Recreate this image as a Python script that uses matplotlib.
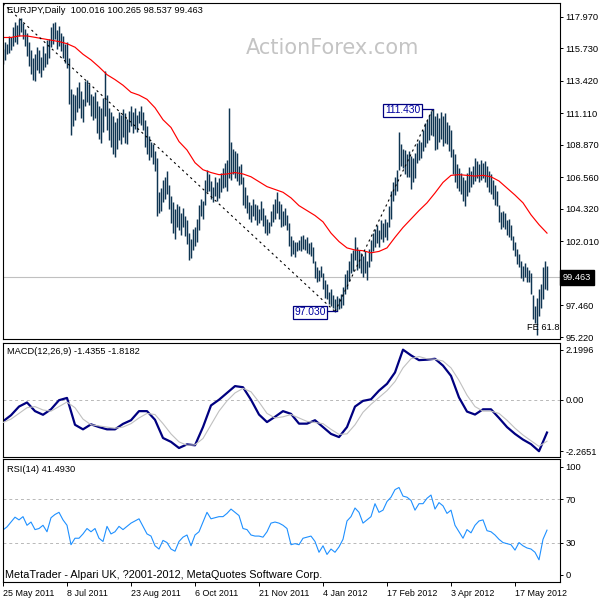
import numpy as np
import matplotlib
matplotlib.use("Agg")
import matplotlib.pyplot as plt
from matplotlib.transforms import blended_transform_factory

plt.rcParams['font.family'] = ['Liberation Sans', 'DejaVu Sans']

# ---- values (one bar per trading day, 25 May 2011 -> 8 Jun 2012) ----
chart_title = "EURJPY,Daily  100.016 100.265 98.537 99.463"
macd_title = "MACD(12,26,9) -1.4355 -1.8182"
rsi_title = "RSI(14) 41.4930"
footer = "MetaTrader - Alpari UK, ?2001-2012, MetaQuotes Software Corp."
watermark = "ActionForex.com"
last_close = 99.463
swing_low = 97.030
swing_high = 111.430
trend_start = 118.9  # price where the first dashed line enters the chart

high = [115.7, 116.2, 116.0, 116.6, 116.5, 117.2, 117.6, 117.4, 117.8, 117.9,
        117.5, 117.1, 116.8, 116.2, 115.6, 115.0, 115.3, 115.8, 115.6, 115.1,
        115.9, 115.4, 116.3, 116.4, 117.2, 117.5, 117.6, 117.0, 117.3, 116.8,
        116.6, 116.0, 116.2, 115.0, 112.8, 112.5, 112.4, 113.0, 113.3, 112.7,
        112.1, 113.4, 113.5, 113.2, 112.5, 112.3, 112.6, 112.0, 111.6, 111.5,
        112.2, 114.1, 112.4, 111.5, 111.2, 110.9, 110.5, 110.8, 111.2, 111.0,
        111.4, 111.1, 110.7, 111.3, 111.6, 111.2, 111.5, 111.0, 111.3, 111.6,
        111.2, 110.6, 110.2, 109.5, 109.1, 108.9, 108.4, 107.9, 105.5, 105.8,
        106.4, 106.6, 107.0, 106.0, 105.2, 104.8, 104.3, 104.7, 104.5, 104.0,
        104.4, 103.8, 103.5, 102.6, 102.2, 102.9, 103.0, 103.6, 104.6, 105.0,
        104.9, 106.4, 107.1, 106.8, 106.3, 105.9, 106.6, 106.2, 106.5, 106.9,
        107.2, 107.6, 107.8, 111.5, 109.1, 108.6, 108.4, 108.3, 107.4, 107.5,
        106.6, 105.9, 105.3, 104.8, 104.6, 105.0, 104.7, 104.6, 104.3, 104.9,
        104.4, 103.9, 103.6, 103.4, 104.2, 104.7, 105.0, 105.5, 104.9, 104.7,
        104.2, 104.4, 103.9, 103.3, 102.4, 102.1, 102.0, 102.0, 102.1, 102.4,
        102.5, 102.2, 102.3, 101.9, 102.0, 101.6, 100.6, 100.2, 100.0, 100.3,
        99.8, 99.3, 99.0, 98.4, 98.6, 98.2, 97.9, 98.1, 98.0, 98.3,
        98.8, 99.7, 100.0, 100.6, 101.2, 101.4, 102.3, 101.6, 101.4, 101.2,
        101.0, 101.3, 100.6, 101.5, 102.1, 102.6, 102.9, 103.2, 102.8, 103.5,
        103.3, 103.6, 103.4, 104.5, 105.6, 106.2, 106.6, 107.1, 109.8, 108.9,
        108.6, 108.5, 108.2, 108.4, 108.1, 107.9, 108.3, 109.0, 109.2, 109.1,
        109.9, 110.4, 110.6, 111.0, 111.3, 111.43, 110.9, 111.1, 110.8, 111.2,
        110.9, 111.1, 110.5, 110.3, 109.9, 108.6, 108.2, 107.5, 107.2, 106.9,
        106.6, 106.4, 106.9, 107.3, 107.0, 107.4, 107.9, 107.7, 107.5, 107.8,
        107.6, 107.7, 107.4, 107.0, 106.8, 106.4, 106.0, 105.6, 104.6, 104.1,
        104.2, 104.0, 103.5, 103.6, 103.2, 102.4, 102.0, 101.5, 101.1, 100.6,
        100.3, 100.5, 100.2, 100.0, 99.8, 98.2, 97.4, 98.0, 98.6, 99.0,
        100.2, 100.6, 100.265]
low = [114.6, 114.9, 115.3, 115.4, 115.6, 115.9, 116.2, 116.0, 116.6, 116.9,
       116.4, 115.9, 115.2, 114.5, 113.9, 113.5, 113.4, 114.2, 114.0, 113.7,
       114.2, 114.4, 114.6, 115.0, 115.8, 116.0, 116.4, 115.7, 115.9, 115.5,
       115.0, 114.7, 114.3, 111.8, 109.6, 110.2, 110.6, 111.2, 111.5, 110.8,
       110.5, 111.6, 111.9, 111.7, 110.9, 110.6, 110.8, 109.7, 109.3, 109.0,
       109.8, 110.9, 109.9, 109.2, 108.7, 108.2, 108.0, 108.6, 109.2, 108.9,
       109.4, 109.0, 108.9, 109.8, 110.2, 109.7, 110.0, 109.8, 110.4, 110.3,
       109.9, 108.7, 108.2, 107.8, 108.0, 107.5, 107.0, 103.8, 104.0, 104.2,
       104.8, 105.0, 105.4, 104.3, 103.3, 102.6, 102.2, 103.0, 102.8, 102.5,
       103.0, 102.4, 101.8, 100.7, 100.8, 101.4, 101.7, 102.0, 102.8, 103.8,
       103.6, 104.6, 105.5, 105.6, 105.0, 104.8, 105.2, 104.9, 105.1, 105.5,
       105.8, 105.9, 105.6, 106.5, 106.4, 106.8, 106.5, 106.3, 106.0, 106.1,
       104.6, 104.4, 104.0, 103.6, 103.4, 103.8, 103.5, 103.2, 103.3, 103.5,
       103.1, 102.6, 102.5, 102.6, 103.1, 103.4, 103.6, 104.0, 103.6, 103.0,
       103.1, 103.2, 102.8, 101.7, 101.0, 101.1, 100.9, 101.3, 101.4, 101.3,
       101.5, 101.4, 101.2, 101.1, 101.0, 100.5, 99.4, 99.1, 99.2, 99.5,
       98.6, 98.0, 97.9, 97.6, 97.4, 97.3, 97.03, 97.1, 97.2, 97.3,
       97.5, 98.3, 98.6, 99.2, 99.8, 99.9, 100.7, 100.0, 100.1, 99.8,
       99.5, 99.8, 99.3, 100.2, 100.6, 101.3, 101.6, 101.9, 101.6, 102.2,
       102.0, 102.3, 102.1, 103.0, 103.6, 104.9, 105.3, 105.6, 107.1, 107.4,
       107.2, 106.8, 106.6, 106.6, 105.7, 106.2, 106.5, 107.6, 107.8, 107.9,
       108.4, 108.7, 109.0, 109.2, 109.6, 109.5, 108.5, 108.6, 109.1, 109.3,
       108.8, 109.0, 108.9, 108.4, 108.0, 106.8, 106.2, 105.8, 105.6, 105.4,
       104.9, 104.5, 105.2, 105.5, 105.9, 106.1, 106.3, 106.5, 106.2, 106.4,
       106.5, 106.2, 105.9, 105.5, 105.4, 105.0, 104.6, 104.5, 103.4, 102.9,
       103.0, 102.9, 102.5, 102.3, 102.1, 101.4, 101.0, 100.4, 100.2, 99.4,
       99.2, 99.5, 99.1, 99.1, 98.3, 96.5, 96.2, 95.4, 96.7, 97.3,
       97.9, 98.6, 98.537]

# red moving average, one value every 4 bars
ma_step = 4
ma_values = [116.49, 116.49, 116.6, 116.6, 116.5, 116.4, 116.3, 116.2, 116.05, 115.8,
             115.3, 114.9, 114.4, 113.85, 113.5, 113.1, 112.6, 112.4, 112.1, 111.5,
             110.65, 110.1, 109.1, 108.5, 107.6, 107.1, 106.9, 106.75, 106.8, 106.9,
             106.8, 106.6, 106.25, 105.9, 105.7, 105.5, 105.1, 104.55, 104.2, 103.85,
             103.4, 102.6, 102.0, 101.55, 101.4, 101.35, 101.2, 101.3, 101.55, 102.3,
             103.0, 103.6, 104.2, 104.75, 105.45, 106.2, 106.7, 106.75, 106.7, 106.65,
             106.7, 106.6, 106.3, 105.8, 105.3, 104.75, 103.9, 103.2, 102.6]

# MACD main and signal, one value every 4 bars
macd_step = 4
macd_main = [-0.95, -0.68, -0.3, -0.12, -0.5, -0.66, -0.42, -0.02, 0.08, -1.1,
             -1.3, -1.08, -1.2, -1.3, -1.3, -1.06, -0.9, -0.5, -0.5, -0.88,
             -1.68, -1.85, -2.12, -1.96, -2.0, -1.2, -0.25, 0.0, 0.3, 0.6,
             0.55, 0.0, -0.65, -0.98, -0.75, -0.5, -0.62, -1.05, -1.05, -0.9,
             -1.2, -1.5, -1.64, -1.2, -0.3, -0.05, 0.02, 0.4, 0.7, 1.2,
             2.2, 1.95, 1.74, 1.76, 1.8, 1.5, 1.05, 0.1, -0.52, -0.65,
             -0.42, -0.42, -0.8, -1.2, -1.5, -1.75, -1.95, -2.26, -1.44]
macd_signal = [-1.0, -0.85, -0.6, -0.35, -0.3, -0.45, -0.5, -0.3, -0.1, -0.35,
               -0.85, -1.1, -1.15, -1.2, -1.25, -1.2, -1.05, -0.8, -0.6, -0.65,
               -1.05, -1.5, -1.85, -2.0, -1.98, -1.7, -1.1, -0.5, -0.05, 0.3,
               0.5, 0.35, -0.1, -0.6, -0.8, -0.75, -0.65, -0.8, -0.95, -1.0,
               -1.05, -1.3, -1.52, -1.5, -1.1, -0.55, -0.2, 0.1, 0.4, 0.8,
               1.4, 1.8, 1.9, 1.8, 1.78, 1.7, 1.4, 0.85, 0.2, -0.3,
               -0.5, -0.5, -0.6, -0.9, -1.25, -1.55, -1.8, -2.05, -1.82]

# RSI(14), one value every 2 bars
rsi_step = 2
rsi_values = [41.7, 44.5, 49, 53.5, 51, 54, 46, 49, 42, 43,
              46, 40, 53, 56, 58, 51, 46, 28, 34, 34,
              38, 43, 40, 43, 34, 31, 45, 38, 40, 45,
              42, 45, 48, 50, 52, 45, 38, 36, 27, 24,
              32, 30, 24, 22, 31, 35, 37, 27, 37, 40,
              49, 58, 52, 53, 54, 54, 57, 61, 58, 55,
              43, 42, 37, 36, 36, 35, 40, 48, 49, 48,
              46, 43, 28, 29, 28, 34, 35, 36, 31, 21,
              27, 19, 24, 21, 26, 33, 50, 54, 62, 58,
              48, 51, 54, 66, 58, 60, 68, 72, 79, 81,
              73, 72, 69, 60, 66, 66, 71, 74, 61, 67,
              64, 57, 60, 46, 40, 34, 42, 39, 46, 50,
              51, 41, 40, 37, 33, 30, 29, 28, 23, 30,
              27, 25, 24, 21, 14, 33, 41.5]

price_ticks = [117.970, 115.730, 113.420, 111.110, 108.870, 106.560,
               104.320, 102.010, 99.770, 97.460, 95.220]
macd_ticks = [2.1996, 0.0, -2.2651]
macd_tick_labels = ["2.1996", "0.00", "-2.2651"]
rsi_ticks = [100, 70, 30, 0]
rsi_levels = [70, 30]
date_labels = ["25 May 2011", "8 Jul 2011", "23 Aug 2011", "6 Oct 2011", "21 Nov 2011",
               "4 Jan 2012", "17 Feb 2012", "3 Apr 2012", "17 May 2012"]
date_step = 32

# ---- layout in pixels of the 600x600 picture ----
W = 600.0


def rect(top, bottom, left=2.5, right=560.0):
    return [left / W, 1 - bottom / W, (right - left) / W, (bottom - top) / W]


fig = plt.figure(figsize=(6, 6), dpi=100)
ax1 = fig.add_axes(rect(2.7, 339.3))
ax2 = fig.add_axes(rect(342.7, 457.3))
ax3 = fig.add_axes(rect(459.3, 582.3))

xlim = (-0.25, 278.5)
for ax in (ax1, ax2, ax3):
    ax.set_xlim(*xlim)
    ax.set_facecolor('white')
    for s in ax.spines.values():
        s.set_color('black')
        s.set_linewidth(0.8)
    ax.yaxis.tick_right()
    ax.tick_params(axis='y', direction='out', length=2.5, width=0.7, pad=1.5,
                   labelsize=6.7, colors='black')
    ax.tick_params(axis='x', bottom=False, labelbottom=False)

# ---- price panel ----
bars = np.arange(len(high))
ax1.set_ylim(95.06, 118.96)
ax1.axhline(last_close, color='#c0c0c0', lw=0.8, zorder=0.5)
ax1.vlines(bars, low, high, colors='#0f3552', lw=1.05, zorder=1)
ma_x = np.arange(len(ma_values)) * ma_step
ax1.plot(ma_x, ma_values, color='red', lw=0.85, zorder=2)

# swing points that the dashed lines join
low_bar = int(np.argmin(np.abs(np.array(low) - swing_low)))
high_bar = int(np.argmin(np.abs(np.array(high) - swing_high)))
ax1.plot([0, low_bar], [trend_start, swing_low], color='black', lw=0.8,
         ls=(0, (2, 3)), zorder=3)
ax1.plot([low_bar, high_bar], [swing_low, swing_high], color='black', lw=0.8,
         ls=(0, (2, 3)), zorder=3)

box = dict(boxstyle='square,pad=0.15', fc='white', ec='#000080', lw=0.9)
ax1.plot([low_bar - 4, low_bar + 1], [swing_low + 0.05, swing_low + 0.05],
         color='#000080', lw=0.9, zorder=3)
ax1.text(low_bar - 12.5, swing_low - 0.05, f"{swing_low:.3f}", color='#0000a0',
         fontsize=7.4, ha='center', va='center', bbox=box, zorder=4)
ax1.plot([high_bar - 5, high_bar], [swing_high - 0.05, swing_high - 0.05],
         color='#000080', lw=0.9, zorder=3)
ax1.text(high_bar - 15.3, swing_high - 0.12, f"{swing_high:.3f}", color='#0000a0',
         fontsize=7.4, ha='center', va='center', bbox=box, zorder=4)

ax1.set_yticks(price_ticks)
ax1.set_yticklabels([f"{v:.3f}" for v in price_ticks])
trans = blended_transform_factory(ax1.transAxes, ax1.transData)
ax1.text(1.0055, last_close, f"{last_close:.3f}", transform=trans, color='white',
         fontsize=6.7, ha='left', va='center', clip_on=False, zorder=5,
         bbox=dict(boxstyle='square,pad=0.32', fc='black', ec='black'))

fig.text(7 / W, 1 - 10.5 / W, chart_title, fontsize=6.7, ha='left', va='center')
ax1.text(333 / W, 1 - 48 / W, watermark, transform=fig.transFigure, fontsize=15,
         family='DejaVu Sans', color='#c4c4c4', ha='center', va='center', zorder=0)
fig.text(527 / W, 1 - 328 / W, "FE 61.8", fontsize=6.7, ha='left', va='center')

# ---- MACD panel ----
ax2.set_ylim(-2.528, 2.506)
ax2.axhline(0, color='#b8b8b8', lw=0.7, ls=(0, (3, 3)), zorder=0.5)
macd_x = np.arange(len(macd_main)) * macd_step
ax2.plot(macd_x, macd_main, color='#000080', lw=1.6, zorder=2)
ax2.plot(macd_x, macd_signal, color='#c0c0c0', lw=0.8, zorder=3)
ax2.set_yticks(macd_ticks)
ax2.set_yticklabels(macd_tick_labels)
fig.text(7 / W, 1 - 352 / W, macd_title, fontsize=6.7, ha='left', va='center')

# ---- RSI panel ----
ax3.set_ylim(-6.8, 107.1)
for lvl in rsi_levels:
    ax3.axhline(lvl, color='#b8b8b8', lw=0.7, ls=(0, (3, 3)), zorder=0.5)
rsi_x = np.arange(len(rsi_values)) * rsi_step
ax3.plot(rsi_x, rsi_values, color='#1e90ff', lw=0.8, zorder=2)
ax3.set_yticks(rsi_ticks)
ax3.set_yticklabels([str(v) for v in rsi_ticks])
fig.text(7 / W, 1 - 470 / W, rsi_title, fontsize=6.7, ha='left', va='center')
fig.text(5 / W, 1 - 575.5 / W, footer, fontsize=7.85, ha='left', va='center')

date_x = np.arange(len(date_labels)) * date_step
ax3.tick_params(axis='x', bottom=True, labelbottom=True, direction='out',
                length=3, width=0.7, pad=1.5, labelsize=6.4)
ax3.set_xticks(date_x)
ax3.set_xticklabels(date_labels, ha='left')

fig.savefig("out.png", dpi=100, facecolor='white')
